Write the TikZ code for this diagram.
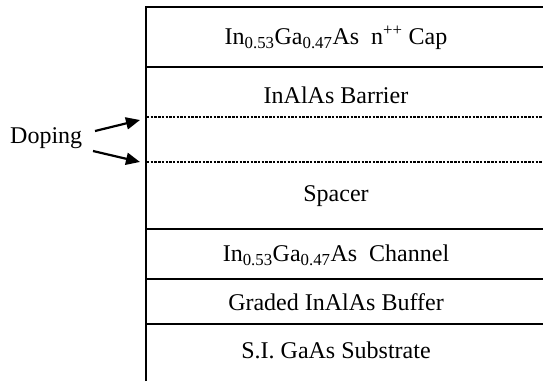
\documentclass[tikz,border=0pt]{standalone}
\usepackage{fontspec}
\setmainfont{Liberation Serif}
\usetikzlibrary{arrows.meta}
\begin{document}
\begin{tikzpicture}[x=1pt,y=-1pt,
  layerline/.style={line width=1.8pt},
  dopeline/.style={line width=2.4pt,dash pattern=on 2.4pt off 1.3pt},
  layertext/.style={font=\fontsize{24}{28}\selectfont,inner sep=0pt},
  doparrow/.style={line width=2.2pt,-{Triangle[length=14pt,width=12pt]}}]
  \useasboundingbox (0,0) rectangle (543,381);
  % stack outline
  \draw[layerline] (146,381) -- (146,7) -- (543,7);
  \draw[layerline] (146,67) -- (543,67);
  \draw[layerline] (146,229) -- (543,229);
  \draw[layerline] (146,279) -- (543,279);
  \draw[layerline] (146,324) -- (543,324);
  % delta-doping planes
  \coordinate (d1) at (147,117);
  \coordinate (d2) at (147,162);
  \draw[dopeline] (d1) -- (543,117);
  \draw[dopeline] (d2) -- (543,162);
  % layer labels
  \node[layertext] (cap) at (336,38) {In\textsubscript{0.53}Ga\textsubscript{0.47}As\ \ n\textsuperscript{++} Cap};
  \node[layertext] (barrier) at (336,95) {InAlAs Barrier};
  \node[layertext] (spacer) at (336,196) {Spacer};
  \node[layertext] (channel) at (336,255) {In\textsubscript{0.53}Ga\textsubscript{0.47}As\ \ Channel};
  \node[layertext] (buffer) at (336,302) {Graded InAlAs Buffer};
  \node[layertext] (substrate) at (336,350) {S.I. GaAs Substrate};
  % doping annotation
  \node[layertext,anchor=west] (doping) at (10,138) {Doping};
  \coordinate (a1) at (95,131);
  \coordinate (a2) at (93,151);
  \draw[doparrow] (a1) -- (140,120);
  \draw[doparrow] (a2) -- (140,162);
\end{tikzpicture}
\end{document}
